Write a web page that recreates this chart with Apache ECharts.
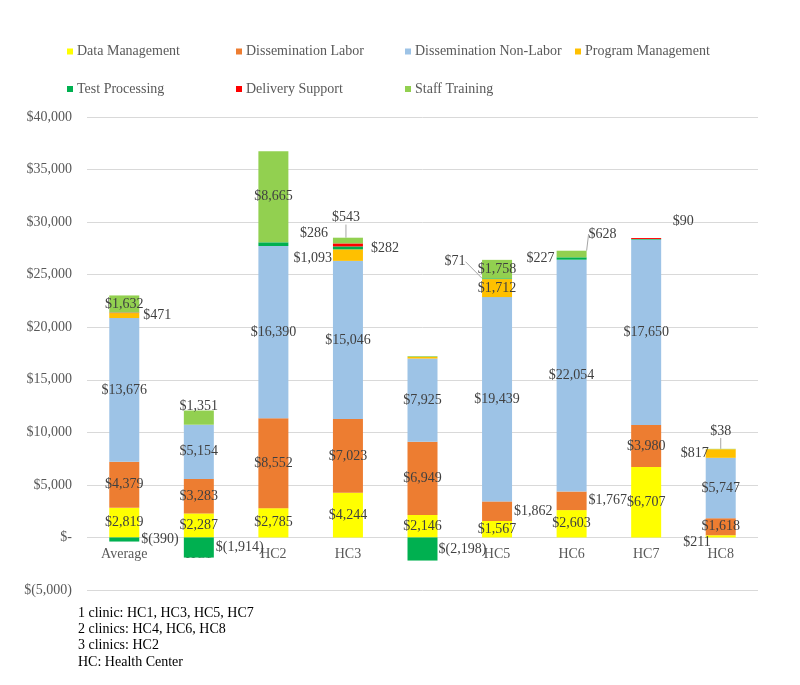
<!DOCTYPE html>
<html>
<head>
<meta charset="utf-8">
<script src="https://cdn.jsdelivr.net/npm/echarts@6/dist/echarts.min.js"></script>
<style>html,body{margin:0;padding:0;background:#fff}#c{width:800px;height:685px}</style>
</head>
<body>
<div id="c"></div>
<script>
// ---------- DATA ----------
var categories = ['Average', 'HC1', 'HC2', 'HC3', 'HC4', 'HC5', 'HC6', 'HC7', 'HC8'];
var seriesNames = ['Data Management', 'Dissemination Labor', 'Dissemination Non-Labor', 'Program Management', 'Test Processing', 'Delivery Support', 'Staff Training'];
var dataManagement        = [2819, 2287, 2785, 4244, 2146, 1567, 2603, 6707, 211];
var disseminationLabor    = [4379, 3283, 8552, 7023, 6949, 1862, 1767, 3980, 1618];
var disseminationNonLabor = [13676, 5154, 16390, 15046, 7925, 19439, 22054, 17650, 5747];
var programManagement     = [471, 0, 0, 1093, 146, 1712, 0, 0, 817];
var testProcessing        = [-390, -1914, 350, 282, -2198, 71, 227, 60, 0];
var deliverySupport       = [47, 0, 0, 286, 0, 0, 0, 90, 0];
var staffTraining         = [1632, 1351, 8665, 543, 72, 1758, 628, 0, 38];
var yTicks = [-5000, 0, 5000, 10000, 15000, 20000, 25000, 30000, 35000, 40000];
var footnotes = ['1 clinic: HC1, HC3, HC5, HC7', '2 clinics: HC4, HC6, HC8', '3 clinics: HC2', 'HC: Health Center'];

var allValues = [dataManagement, disseminationLabor, disseminationNonLabor, programManagement, testProcessing, deliverySupport, staffTraining];
var colors = ['#FFFF00', '#ED7D31', '#9DC3E6', '#FFC000', '#00B050', '#FF0000', '#92D050'];

// ---------- label placement (styling, separate from data) ----------
// key: seriesIndex-categoryIndex
var hidden = {'5-0':1, '4-2':1, '3-4':1, '6-4':1, '4-7':1};
var labelPos = {
  '3-0': {position:'right', distance:4},
  '4-0': {position:'right', distance:2},
  '4-1': {position:'right', distance:2},
  '3-3': {position:'left', distance:1},
  '4-3': {position:'right', distance:8},
  '5-3': {position:'left', distance:5},
  '4-4': {position:'right', distance:1},
  '1-5': {position:'right', distance:2},
  '1-6': {position:'right', distance:2},
  '4-6': {position:'left', distance:2},
  '0-8': {position:'left', distance:-5},
  '3-8': {position:'left', distance:-3}
};
var moved = {
  '6-1': {dx:0, dy:-11},
  '3-3': {dx:0, dy:3},
  '5-3': {dx:0, dy:-12},
  '6-3': {dx:-2, dy:-23},
  '4-5': {dx:-42, dy:-17},
  '6-6': {dx:31, dy:-20},
  '5-7': {dx:37, dy:-17},
  '0-8': {dx:0, dy:6},
  '6-8': {dx:0, dy:-18}
};
var withLine = {'6-3':1, '4-5':1, '6-6':1, '6-8':1};

function money(v) {
  if (v === 0) return '$-';
  var s = Math.abs(v).toLocaleString('en-US');
  return v < 0 ? '$(' + s + ')' : '$' + s;
}

var FONT = 'Liberation Serif';

var series = seriesNames.map(function (name, si) {
  return {
    name: name,
    type: 'bar',
    stack: 'total',
    barWidth: 30,
    itemStyle: {color: colors[si]},
    labelLine: {show: false, lineStyle: {color: '#A6A6A6', width: 1}},
    label: {
      show: true, position: 'inside', color: '#404040',
      fontFamily: FONT, fontSize: 14,
      formatter: function (p) { return money(p.value); }
    },
    data: allValues[si].map(function (v, ci) {
      var key = si + '-' + ci;
      var item = {value: v};
      if (v === 0 || hidden[key]) {
        item.label = {show: false};
      } else if (labelPos[key]) {
        item.label = Object.assign({show: true}, labelPos[key]);
      }
      if (withLine[key]) item.labelLine = {show: true};
      return item;
    })
  };
});

// legend layout: one legend per item, two rows
var legendX = [67, 236, 405, 575, 67, 236, 405];
var legendY = [44.5, 44.5, 44.5, 44.5, 82, 82, 82];
var legends = seriesNames.map(function (n, i) {
  return {
    data: [n], left: legendX[i], top: legendY[i], padding: 0,
    icon: 'rect', itemWidth: 6, itemHeight: 6, itemGap: 0,
    selectedMode: false,
    textStyle: {fontFamily: FONT, fontSize: 14, color: '#595959', padding: [0, 0, 0, -1]}
  };
});
var footText = footnotes.map(function (t, i) {
  return {
    type: 'text', left: 78, top: 606 + i * 16.3,
    style: {text: t, fill: '#000', fontSize: 14, fontFamily: FONT}
  };
});

var chart = echarts.init(document.getElementById('c'), null, {renderer: 'canvas'});
chart.setOption({
  animation: false,
  backgroundColor: '#fff',
  legend: legends,
  grid: {left: 87, right: 42, top: 117, bottom: 95, containLabel: false},
  xAxis: {
    type: 'category', data: categories,
    offset: -52.5,
    axisLine: {show: false, onZero: false},
    axisTick: {show: false},
    axisLabel: {color: '#595959', fontFamily: FONT, fontSize: 14, margin: 10}
  },
  yAxis: {
    type: 'value', min: yTicks[0], max: yTicks[yTicks.length - 1], interval: 5000,
    axisLine: {show: false}, axisTick: {show: false},
    splitLine: {lineStyle: {color: '#D9D9D9', width: 1}},
    axisLabel: {color: '#595959', fontFamily: FONT, fontSize: 14, margin: 15, formatter: money}
  },
  labelLayout: function (p) {
    var key = p.seriesIndex + '-' + p.dataIndex;
    if (moved[key]) return {dx: moved[key].dx, dy: moved[key].dy};
  },
  graphic: footText,
  series: series
});
</script>
</body>
</html>
